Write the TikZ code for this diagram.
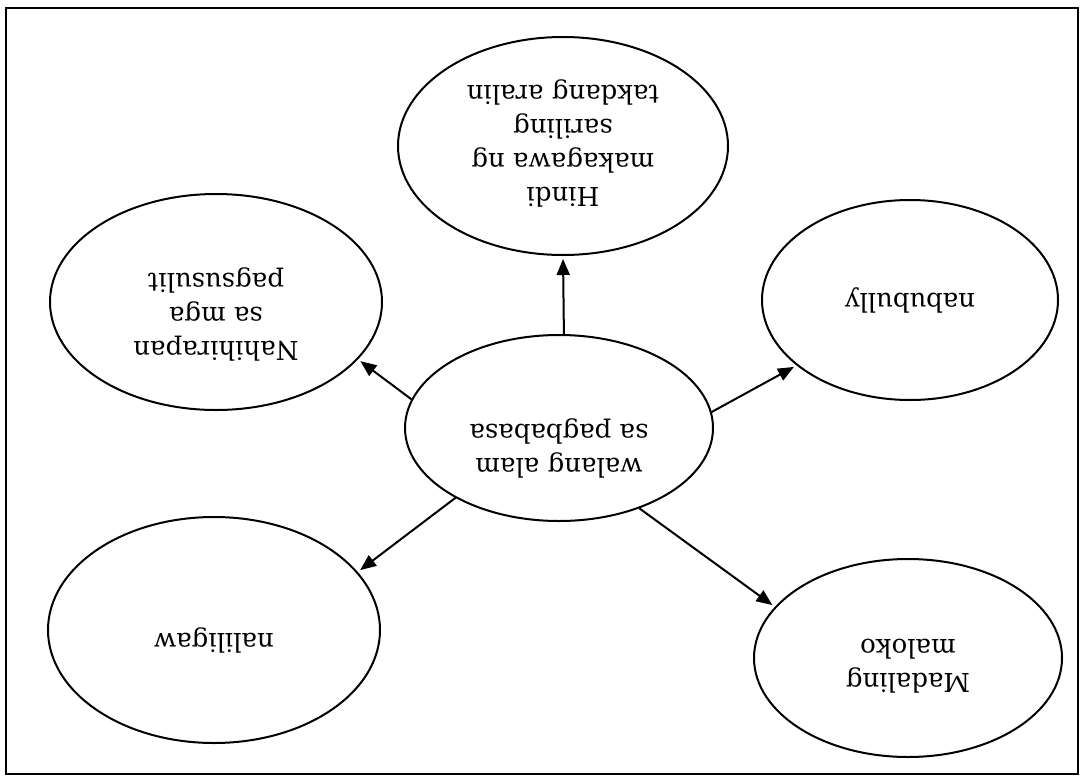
\documentclass[tikz,border=0pt]{standalone}
\usepackage{fontspec}
\setmainfont{DejaVu Serif}
\usepackage{graphicx}
\usetikzlibrary{shapes.geometric, arrows.meta}

% baligtad na teksto (180 degrees), opsyonal na pagbaba
\newcommand{\baligtad}[2][0pt]{\raisebox{-#1}[\height][\depth]{\rotatebox[origin=c]{180}{\begin{tabular}{@{}c@{}}#2\end{tabular}}}}

\begin{document}
\begin{tikzpicture}[x=1pt, y=-1pt, every node/.style={font=\fontsize{26}{34}\selectfont},
    bilog/.style={ellipse, draw, line width=2pt, inner sep=0pt},
    palaso/.style={-{Triangle[length=16pt, width=13pt]}, line width=2pt, shorten >=3pt}]
    \useasboundingbox (0,0) rectangle (1084,776);
    \draw[line width=2.2pt] (6,8) rectangle (1078,774);

    \node[bilog, minimum width=308pt, minimum height=186pt] (gitna) at (559,428) {\baligtad[20pt]{walang alam\\sa pagbabasa}};
    \node[bilog, minimum width=330pt, minimum height=218pt] (itaas) at (563,146) {\baligtad[-3pt]{Hindi\\makagawa ng\\sariling\\takdang aralin}};
    \node[bilog, minimum width=332pt, minimum height=216pt] (kaliwa1) at (216,302) {\baligtad[12pt]{Nahihirapan\\sa mga\\pagsusulit}};
    \node[bilog, minimum width=296pt, minimum height=200pt] (kanan1) at (910,300) {\baligtad{nabubully}};
    \node[bilog, minimum width=332pt, minimum height=226pt] (kaliwa2) at (214,630) {\baligtad[10pt]{naliligaw}};
    \node[bilog, minimum width=308pt, minimum height=198pt] (kanan2) at (908,658) {\baligtad[5pt]{Madaling\\maloko}};

    \path[palaso]
    (gitna.87) edge (itaas.270)
    (gitna.169) edge (kaliwa1.338)
    (gitna.6) edge (kanan1.210)
    (gitna.214) edge (kaliwa2.22)
    (gitna.315) edge (kanan2.159);
\end{tikzpicture}
\end{document}
